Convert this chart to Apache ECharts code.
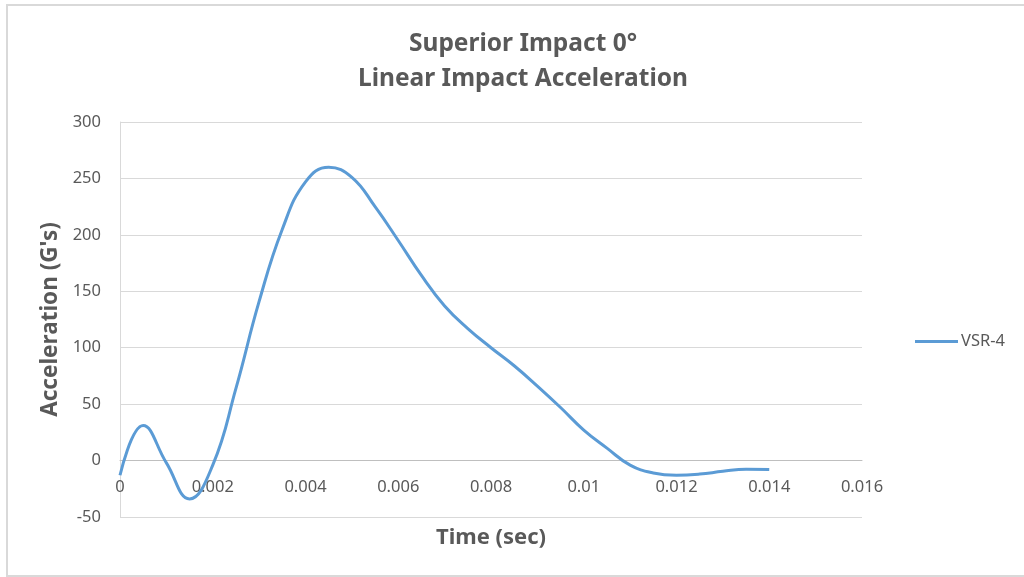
<!DOCTYPE html>
<html lang="en">

<head>
    <meta charset="UTF-8">
    <title>Superior Impact 0°</title>
    <script src="https://cdn.jsdelivr.net/npm/echarts@6/dist/echarts.min.js"></script>
    <style>
        body {
            margin: 0;
            background: #fff;
        }

        #root {
            width: 1024px;
            height: 577px;
        }
    </style>
</head>

<body>

    <div id="root"></div>
    <script>

        // time (sec) and acceleration (G's)
        var times = [0, 0.0005, 0.001, 0.0015, 0.002, 0.0025, 0.003, 0.0035, 0.004, 0.0045,
            0.005, 0.0055, 0.006, 0.0065, 0.007, 0.0075, 0.008, 0.0085, 0.009, 0.0095,
            0.01, 0.0105, 0.011, 0.0115, 0.012, 0.0125, 0.013, 0.0135, 0.014];
        var vsr4 = [-13, 31, -2, -34, -4, 64, 141, 205, 247, 260,
            251, 225, 195, 164, 137, 117, 100, 84, 66, 47,
            27, 11, -4, -11, -13, -12, -9.5, -7.7, -8];

        var seriesName = 'VSR-4';
        var titleLines = ['Superior Impact 0°', 'Linear Impact Acceleration'];

        var txt = '#595959';
        var font = 'Noto Sans';

        var data = times.map(function (t, i) {
            return [t, vsr4[i]];
        });

        var mychart = echarts.init(document.getElementById('root'));

        mychart.setOption({
            animation: false,
            backgroundColor: '#fff',
            textStyle: { fontFamily: font },
            graphic: [{
                // outer chart frame
                type: 'rect',
                shape: { x: 7, y: 5, width: 1030, height: 571 },
                style: { fill: 'none', stroke: '#d9d9d9', lineWidth: 2 },
                silent: true
            }],
            title: {
                text: titleLines.join('\n'),
                left: 518,
                top: 22,
                textAlign: 'center',
                textStyle: {
                    color: txt,
                    fontSize: 24.5,
                    fontWeight: 'bold',
                    lineHeight: 35,
                    fontFamily: font
                }
            },
            legend: {
                data: [seriesName],
                orient: 'vertical',
                left: 910,
                top: 328,
                itemWidth: 43,
                itemHeight: 3,
                itemGap: 5,
                icon: 'rect',
                textStyle: { color: txt, fontSize: 16.5, fontFamily: font, padding: [0, 0, 0, -2] }
            },
            grid: {
                left: 120,
                right: 162,
                top: 122,
                bottom: 60,
                containLabel: false,
                outerBoundsMode: 'none'
            },
            xAxis: {
                type: 'value',
                min: 0,
                max: 0.016,
                interval: 0.002,
                // axis sits on the 0 line, 57px above the grid bottom
                offset: -57,
                name: 'Time (sec)',
                nameLocation: 'middle',
                nameGap: 67,
                nameTextStyle: { color: txt, fontSize: 22, fontWeight: 'bold', fontFamily: font },
                axisLine: { onZero: false, lineStyle: { color: '#bfbfbf', width: 1 } },
                axisTick: { show: false },
                splitLine: { show: false },
                axisLabel: {
                    color: txt,
                    fontSize: 16.5,
                    margin: 19,
                    fontFamily: font,
                    formatter: function (v) { return String(+v.toFixed(3)); }
                }
            },
            yAxis: {
                type: 'value',
                min: -50,
                max: 300,
                interval: 50,
                name: "Acceleration (G's)",
                nameLocation: 'middle',
                nameGap: 57,
                nameTextStyle: { color: txt, fontSize: 22.5, fontWeight: 'bold', fontFamily: font },
                axisLine: { show: true, onZero: false, lineStyle: { color: '#d9d9d9' } },
                axisTick: { show: false },
                splitLine: { lineStyle: { color: '#d9d9d9', width: 1 } },
                axisLabel: { color: txt, fontSize: 16.5, margin: 19, fontFamily: font }
            },
            series: [{
                name: seriesName,
                type: 'line',
                data: data,
                smooth: 0.45,
                showSymbol: false,
                symbol: 'none',
                lineStyle: { color: '#5b9bd5', width: 3 },
                itemStyle: { color: '#5b9bd5' }
            }]
        });

    </script>

</body>

</html>
